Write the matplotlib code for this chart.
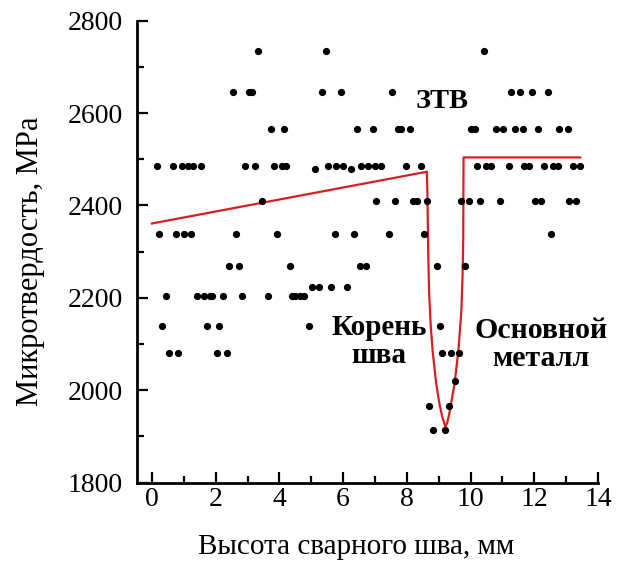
import matplotlib
matplotlib.use("Agg")
import matplotlib.pyplot as plt
from matplotlib.ticker import MultipleLocator

plt.rcParams['font.family'] = ['Liberation Serif', 'DejaVu Serif']
plt.rcParams['font.size'] = 20
plt.rcParams['xtick.direction'] = 'in'
plt.rcParams['ytick.direction'] = 'in'

# measured microhardness, grouped by level (MPa): x positions in mm
x_2735 = [3.33, 5.45, 10.42]
x_2645 = [2.55, 3.04, 3.13, 5.33, 5.92, 7.53, 11.28, 11.54, 11.92, 12.42]
x_2565 = [3.73, 4.13, 6.44, 6.93, 7.72, 7.83, 8.11, 10.02, 10.13, 10.81, 11.01,
          11.38, 11.64, 12.11, 12.79, 13.05]
x_2485 = [0.15, 0.65, 0.93, 1.12, 1.29, 1.53, 2.92, 3.24, 3.83, 4.07, 4.22, 5.53,
          5.79, 6.00, 6.55, 6.77, 6.99, 7.18, 7.98, 8.43, 10.20, 10.47, 10.65,
          11.22, 11.69, 11.85, 12.32, 12.58, 12.74, 13.21, 13.42]
x_2478 = [5.13, 6.24]
x_2410 = [3.44, 7.02, 7.62, 8.19, 8.32, 8.62, 9.71, 9.94, 10.30, 10.91, 12.01,
          12.22, 13.10, 13.31]
x_2338 = [0.23, 0.74, 1.01, 1.24, 2.63, 3.94, 5.73, 6.33, 7.44, 8.53, 12.51]
x_2269 = [2.42, 2.73, 4.34, 6.52, 6.73, 8.94, 9.84]
x_2223 = [5.01, 5.24, 5.62, 6.13]
x_2203 = [0.44, 1.40, 1.63, 1.82, 1.90, 2.24, 2.84, 3.63, 4.40, 4.50, 4.64, 4.76]
x_2140 = [0.32, 1.73, 2.11, 4.93, 9.03]
x_2080 = [0.54, 0.82, 2.03, 2.34, 9.11, 9.39, 9.63]
x_2020 = [9.52]
x_1965 = [8.71, 9.32]
x_1915 = [8.82, 9.21]

levels = [2735, 2645, 2565, 2485, 2478, 2410, 2338, 2269, 2223, 2203, 2140, 2080,
          2020, 1965, 1915]
rows = [x_2735, x_2645, x_2565, x_2485, x_2478, x_2410, x_2338, x_2269, x_2223,
        x_2203, x_2140, x_2080, x_2020, x_1965, x_1915]

# trend line (hand drawn in the original)
fit_x = [0.0, 8.63, 8.65, 8.67, 8.70, 8.75, 8.81, 8.92, 9.03, 9.11, 9.21, 9.27,
         9.34, 9.50, 9.62, 9.71, 9.75, 9.77, 9.78, 13.44]
fit_y = [2361, 2473, 2412, 2300, 2210, 2140, 2085, 2015, 1968, 1943, 1921, 1930,
         1952, 2015, 2087, 2170, 2250, 2330, 2504, 2504]

hv_x = []
hv_y = []
for lev, xs in zip(levels, rows):
    hv_x += xs
    hv_y += [lev] * len(xs)

fig = plt.figure(figsize=(6.17, 5.66), dpi=100)
ax = fig.add_axes([0.2215, 0.1472, 0.7477, 0.8163])

ax.plot(fit_x, fit_y, color='#d62020', lw=1.6, zorder=2)
ax.plot(hv_x, hv_y, 'o', color='black', ms=4.2, zorder=3)

ax.set_xlim(-0.48, 14)
ax.set_ylim(1800, 2800)
ax.xaxis.set_major_locator(MultipleLocator(2))
ax.xaxis.set_minor_locator(MultipleLocator(1))
ax.yaxis.set_major_locator(MultipleLocator(200))
ax.yaxis.set_minor_locator(MultipleLocator(100))

for s in ['top', 'right']:
    ax.spines[s].set_visible(False)
for s in ['left', 'bottom']:
    ax.spines[s].set_linewidth(2.0)
ax.tick_params(which='major', length=8, width=1.6)
ax.tick_params(which='minor', length=5, width=1.6)
ax.tick_params(axis='x', which='major', pad=3)
ax.tick_params(axis='y', which='major', pad=10)

ax.set_xlabel("Высота сварного шва, мм", fontsize=21, va='center')
ax.xaxis.set_label_coords(0.475, -0.139)
ax.set_ylabel("Микротвердость, MPa", fontsize=22, va='center')
ax.yaxis.set_label_coords(-0.231, 0.479)

ax.text(9.1, 2625, "ЗТВ", ha='center', va='center', fontweight='bold', fontsize=20.5)
ax.text(7.13, 2105, "Корень\nшва", ha='center', va='center', fontweight='bold',
        fontsize=21, linespacing=1.05)
ax.text(12.22, 2100, "Основной\nметалл", ha='center', va='center', fontweight='bold',
        fontsize=21.5, linespacing=1.05)

fig.savefig("out.png", dpi=100)
plt.close(fig)
